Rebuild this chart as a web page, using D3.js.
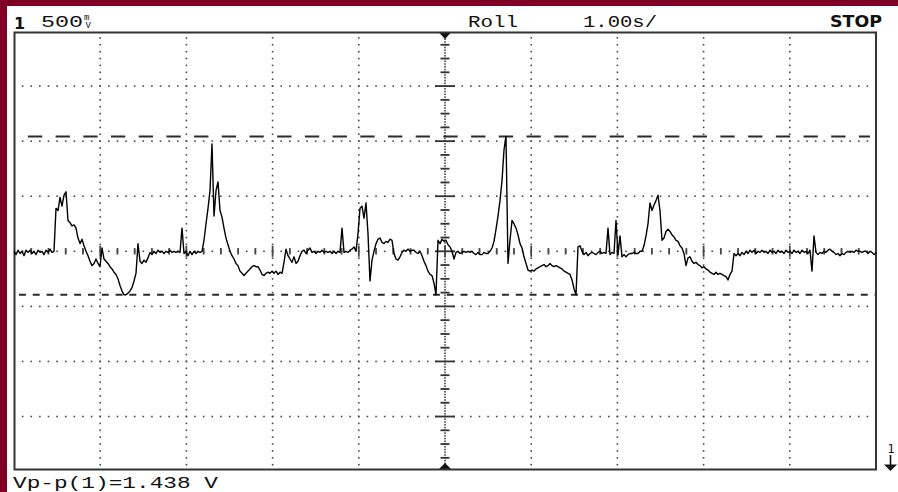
<!DOCTYPE html>
<html>
<head>
<meta charset="utf-8">
<script src="https://cdn.jsdelivr.net/npm/d3@7"></script>
<style>
  html, body { margin: 0; padding: 0; background: #7f0024; overflow: hidden; }
</style>
</head>
<body>
<div class="scope"></div>
<script>
'use strict'

// scope setup, as shown in the status line
const channel = '1'
const voltsPerDiv = 0.5
const secPerDiv = 1.0
const divsX = 10
const divsY = 8
const scaleLabel = '500'
const modeLabel = 'Roll'
const timeLabel = '1.00s/'
const runState = 'STOP'

// roll record, one sample per 2 screen columns, volts from screen centre
const volts = [
   0.00,-0.03, 0.01,-0.02, 0.00,-0.04, 0.01,-0.01, 0.01,-0.02,
   0.00,-0.03, 0.01,-0.01, 0.00,-0.03, 0.01,-0.01, 0.02,-0.01,
   0.00, 0.39, 0.37, 0.49, 0.41, 0.51, 0.54, 0.28, 0.26, 0.23,
   0.24, 0.21, 0.12, 0.07, 0.11, 0.05, 0.00,-0.04,-0.09,-0.13,
  -0.11,-0.07,-0.11,-0.14, 0.03,-0.07,-0.09,-0.11,-0.14,-0.16,
  -0.19,-0.21,-0.25,-0.31,-0.36,-0.395,-0.395,-0.38,-0.36,-0.33,
  -0.27,-0.20, 0.07,-0.09,-0.11,-0.08,-0.10,-0.06,-0.01,-0.03,
   0.00,-0.02, 0.01,-0.01, 0.00,-0.02, 0.00,-0.01, 0.01,-0.01,
   0.00,-0.01, 0.00,-0.01, 0.21,-0.02, 0.00,-0.04, 0.00,-0.03,
   0.00,-0.02, 0.00,-0.01, 0.00, 0.10, 0.25, 0.39, 0.55, 0.974,
   0.32, 0.55, 0.63, 0.37, 0.31, 0.21, 0.12, 0.06, 0.00,-0.04,
  -0.07,-0.11,-0.13,-0.18,-0.20,-0.22,-0.20,-0.18,-0.16,-0.14,
  -0.13,-0.14,-0.14,-0.17,-0.21,-0.22,-0.20,-0.19,-0.20,-0.18,
  -0.20,-0.18,-0.21,-0.19,-0.20,-0.10, 0.02,-0.04,-0.07,-0.10,
  -0.05,-0.11,-0.09,-0.04, 0.00, 0.01,-0.02, 0.01, 0.03,-0.01,
   0.00,-0.02, 0.00,-0.01, 0.01,-0.01, 0.00,-0.01, 0.00,-0.02,
   0.00,-0.02, 0.00,-0.01, 0.21,-0.01, 0.00,-0.01, 0.01, 0.02,
   0.04, 0.00, 0.16, 0.39, 0.41, 0.30, 0.44, 0.16,-0.27,-0.08,
   0.00, 0.07, 0.11, 0.12, 0.08, 0.07, 0.09, 0.08, 0.11, 0.10,
  -0.02,-0.07,-0.08,-0.05,-0.01, 0.01, 0.00, 0.02, 0.00, 0.01,
   0.01,-0.01,-0.02, 0.00,-0.04,-0.09,-0.13,-0.18,-0.21,-0.22,
  -0.29,-0.395, 0.10, 0.07, 0.11, 0.09, 0.10, 0.06, 0.04, 0.00,
  -0.07,-0.01, 0.00,-0.02,-0.01, 0.00,-0.01, 0.00,-0.01, 0.00,
  -0.02,-0.03,-0.01,-0.03,-0.03,-0.01,-0.02,-0.02, 0.00, 0.03,
   0.09, 0.20, 0.32, 0.46, 0.64, 0.92, 1.043,-0.11, 0.10, 0.28,
   0.25, 0.21, 0.15, 0.07, 0.03,-0.05,-0.11,-0.17,-0.18,-0.17,
  -0.18,-0.16,-0.15,-0.14,-0.13,-0.12,-0.14,-0.13,-0.11,-0.13,
  -0.14,-0.13,-0.14,-0.15,-0.16,-0.18,-0.19,-0.20,-0.21,-0.26,
  -0.34,-0.395, 0.04, 0.05, 0.00,-0.03,-0.01,-0.04,-0.02,-0.01,
  -0.02,-0.03,-0.01, 0.00,-0.02,-0.01,-0.02, 0.21,-0.03,-0.01,
  -0.02, 0.28,-0.03, 0.14,-0.05,-0.03,-0.05,-0.03,-0.02,-0.02,
  -0.01,-0.02,-0.02, 0.00, 0.00, 0.05, 0.14, 0.25, 0.44, 0.37,
   0.42, 0.46, 0.51, 0.37, 0.10, 0.12, 0.18, 0.20, 0.18, 0.15,
   0.13, 0.10, 0.09, 0.05, 0.03,-0.02,-0.13,-0.06,-0.05,-0.09,
  -0.11,-0.10,-0.12,-0.13,-0.15,-0.14,-0.16,-0.17,-0.19,-0.20,
  -0.21,-0.19,-0.21,-0.20,-0.21,-0.22,-0.23,-0.26,-0.21,-0.18,
  -0.02,-0.04,-0.02,-0.04,-0.01,-0.03, 0.00,-0.02, 0.01,-0.01,
   0.01,-0.02, 0.00,-0.01, 0.01,-0.01, 0.00,-0.02, 0.01,-0.01,
   0.00,-0.02, 0.01,-0.01, 0.00,-0.02, 0.01,-0.01, 0.00,-0.02,
   0.01,-0.01, 0.00,-0.02, 0.01,-0.01, 0.00,-0.02, 0.01,-0.18,
   0.14,-0.01,-0.03,-0.01,-0.02, 0.00,-0.01, 0.01, 0.02, 0.00,
  -0.01,-0.03,-0.02,-0.04,-0.02,-0.03,-0.01, 0.00,-0.01, 0.00,
  -0.01, 0.01, 0.00, 0.00,-0.01, 0.00, 0.00,-0.02, 0.00,-0.01,
  -0.03,-0.01
]

const width = 898
const height = 492
const box = { left: 14.5, right: 876, top: 32.5, bottom: 469.5 }
const ink = '#111'
const gridInk = '#484848'

const sampleStep = divsX * secPerDiv / (volts.length - 1)
const halfV = divsY / 2 * voltsPerDiv

const x = d3.scaleLinear().domain([0, divsX * secPerDiv]).range([14, 876])
const y = d3.scaleLinear().domain([-halfV, halfV]).range([471.6, 31])

const svg = d3.select('.scope').append('svg')
    .attr('width', width)
    .attr('height', height)
    .style('display', 'block')

// red bezel edge, white screen
svg.append('rect')
    .attr('x', 7).attr('y', 6)
    .attr('width', width - 7).attr('height', height - 6)
    .attr('fill', '#fff')

const grid = svg.append('g')

function dot(g, cx, cy) {
  g.append('rect')
      .attr('x', cx - 0.8).attr('y', cy - 0.8)
      .attr('width', 1.6).attr('height', 1.6)
      .attr('fill', gridInk)
}

const tMid = divsX * secPerDiv / 2

// dotted verticals, 8 dots per division
d3.range(1, divsX).forEach(function(i) {
  const t = i * secPerDiv
  if (t === tMid) return
  d3.range(1, divsY * 8).forEach(function(k) {
    dot(grid, x(t), y(-halfV + k * voltsPerDiv / 8))
  })
})

// dotted horizontals, 10 dots per division
d3.range(1, divsY).forEach(function(j) {
  const v = -halfV + j * voltsPerDiv
  if (v === 0) return
  d3.range(1, divsX * 10).forEach(function(k) {
    dot(grid, x(k * secPerDiv / 10), y(v))
  })
})

// centre time axis with ticks
d3.range(1, divsX * 10).forEach(function(k) {
  dot(grid, x(k * secPerDiv / 10), y(0))
})
d3.range(1, divsX * 5).forEach(function(k) {
  const major = k % 5 === 0
  const len = major ? 11 : 6.5
  grid.append('rect')
      .attr('x', x(k * secPerDiv / 5) - 0.9)
      .attr('y', y(0) - len / 2)
      .attr('width', 1.8).attr('height', len)
      .attr('fill', gridInk)
})

// centre volts axis with ticks
d3.range(1, divsY * 20).forEach(function(k) {
  dot(grid, x(tMid), y(-halfV + k * voltsPerDiv / 20))
})
d3.range(1, divsY * 4).forEach(function(k) {
  const major = k % 4 === 0
  const len = major ? 20 : 9
  grid.append('rect')
      .attr('x', x(tMid) - len / 2)
      .attr('y', y(-halfV + k * voltsPerDiv / 4) - 0.9)
      .attr('width', len).attr('height', 1.8)
      .attr('fill', '#333')
})

// trigger position markers
const cx = x(tMid)
svg.append('path')
    .attr('d', `M${cx - 6},${box.top}L${cx + 6},${box.top}L${cx},${box.top + 6.5}Z`)
    .attr('fill', ink)
svg.append('path')
    .attr('d', `M${cx - 6.5},${box.bottom}L${cx + 6.5},${box.bottom}L${cx},${box.bottom - 6.5}Z`)
    .attr('fill', ink)

// frame
svg.append('rect')
    .attr('x', box.left).attr('y', box.top)
    .attr('width', box.right - box.left).attr('height', box.bottom - box.top)
    .attr('fill', 'none')
    .attr('stroke', '#333')
    .attr('stroke-width', 2)

// peak-to-peak cursors
const [vMin, vMax] = d3.extent(volts)

svg.append('line')
    .attr('x1', box.left).attr('x2', 870)
    .attr('y1', y(vMax)).attr('y2', y(vMax))
    .attr('stroke', '#2a2a2a').attr('stroke-width', 2)
    .attr('stroke-dasharray', '14.3 13.4')
    .attr('stroke-dashoffset', 14.3)

svg.append('line')
    .attr('x1', box.left).attr('x2', box.right - 1)
    .attr('y1', y(vMin)).attr('y2', y(vMin))
    .attr('stroke', '#2a2a2a').attr('stroke-width', 2)
    .attr('stroke-dasharray', '6.9 6.9')
    .attr('stroke-dashoffset', 9.3)

// trace
const line = d3.line()
    .x((d, i) => x(i * sampleStep))
    .y(d => y(d))

svg.append('path')
    .datum(volts)
    .attr('d', line)
    .attr('fill', 'none')
    .attr('stroke', '#000')
    .attr('stroke-width', 1.4)
    .attr('stroke-linejoin', 'round')

// status line
function label(txt, px, py, len, opts) {
  opts = opts || {}
  const t = svg.append('text')
      .attr('x', px).attr('y', py)
      .style('font-family', opts.family || '"Liberation Mono", "DejaVu Sans Mono", monospace')
      .style('font-size', (opts.size || 17) + 'px')
      .style('font-weight', opts.weight || 'normal')
      .attr('fill', ink)
      .text(txt)
  if (len) t.attr('textLength', len).attr('lengthAdjust', 'spacingAndGlyphs')
  return t
}

label(channel, 14, 28.5, null, { family: '"DejaVu Sans", sans-serif', weight: 'bold', size: 16 })
label(scaleLabel, 41, 27, 42)

// stacked mV unit glyph
const unit = svg.append('text')
    .style('font-family', '"Liberation Mono", monospace')
    .style('font-size', '9px')
    .attr('fill', ink)
unit.append('tspan').attr('x', 84).attr('y', 19.5).text('m')
unit.append('tspan').attr('x', 85.5).attr('y', 28).text('V')

label(modeLabel, 468, 27, 50)
label(timeLabel, 583, 27, 74)
label(runState, 830, 27, 52, { family: '"DejaVu Sans", sans-serif', weight: 'bold', size: 16 })

// measurement readout
const vpp = (vMax - vMin).toFixed(3)
label(`Vp-p(${channel})=${vpp} V`, 13, 487.5, 205, { size: 16 })

// channel ground marker, off screen below
label(channel, 887.5, 453, 7, { family: '"DejaVu Sans Mono", monospace', size: 13 })
svg.append('line')
    .attr('x1', 890.5).attr('x2', 890.5)
    .attr('y1', 455).attr('y2', 466)
    .attr('stroke', ink).attr('stroke-width', 1.6)
svg.append('path')
    .attr('d', 'M884,464.5L897,464.5L890.5,471Z')
    .attr('fill', ink)
</script>
</body>
</html>
